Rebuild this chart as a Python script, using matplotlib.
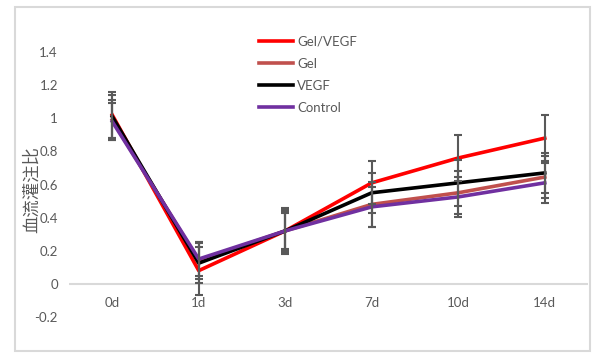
import matplotlib.pyplot as plt
from matplotlib.patches import Rectangle

plt.rcParams['font.family'] = ['Lato', 'Noto Sans CJK SC', 'DejaVu Sans']

# data
days = ['0d', '1d', '3d', '7d', '10d', '14d']
series_names = ['Gel/VEGF', 'Gel', 'VEGF', 'Control']
gel_vegf = [1.02, 0.08, 0.32, 0.61, 0.76, 0.88]
gel = [0.99, 0.14, 0.32, 0.48, 0.55, 0.645]
vegf = [1.01, 0.125, 0.32, 0.55, 0.61, 0.67]
control = [0.98, 0.15, 0.32, 0.465, 0.525, 0.61]
gel_vegf_err = [0.14, 0.145, 0.14, 0.13, 0.14, 0.14]
gel_err = [0.12, 0.11, 0.12, 0.135, 0.13, 0.125]
vegf_err = [0.13, 0.12, 0.13, 0.12, 0.14, 0.12]
control_err = [0.11, 0.10, 0.11, 0.12, 0.12, 0.12]

colors = ['#FF0000', '#C0504D', '#000000', '#7030A0']
values = [gel_vegf, gel, vegf, control]
errors = [gel_vegf_err, gel_err, vegf_err, control_err]

W, H = 597, 358
fig = plt.figure(figsize=(W / 100, H / 100), dpi=100)
# outer chart border
fig.patches.append(Rectangle((15 / W, 1 - 351 / H), 575 / W, 344 / H,
                             transform=fig.transFigure, fill=False,
                             edgecolor='#D9D9D9', linewidth=1.5))
ax = fig.add_axes([69 / W, 1 - 317 / H, 519 / W, 265 / H])

x = list(range(len(days)))
for name, vals, errs, c in zip(series_names, values, errors, colors):
    ax.plot(x, vals, color=c, linewidth=2.6, label=name, zorder=3)
    ax.errorbar(x, vals, yerr=errs, fmt='none', ecolor='#595959',
                elinewidth=1.5, capsize=3, capthick=1.5, zorder=4)

ax.set_xlim(-0.5, len(days) - 0.5)
ax.set_ylim(-0.2, 1.4)
ax.set_yticks([-0.2, 0, 0.2, 0.4, 0.6, 0.8, 1, 1.2, 1.4])
ax.set_yticklabels(['-0.2', '0', '0.2', '0.4', '0.6', '0.8', '1', '1.2', '1.4'])
ax.set_xticks([])
for s in ax.spines.values():
    s.set_visible(False)
ax.axhline(0, color='#D9D9D9', linewidth=1.5, zorder=1)
ax.tick_params(axis='y', length=0, labelsize=9.5, labelcolor='#595959', pad=8)

# category labels sit just under the zero line
for xi, d in zip(x, days):
    ax.text(xi, -0.115, d, ha='center', va='center', fontsize=9.5, color='#595959')

ax.set_ylabel('血流灌注比', fontsize=12.5, color='#595959')
ax.yaxis.set_label_coords(-0.056, 0.48)

ax.legend(loc='upper left', bbox_to_anchor=(247 / W, 1 - 24 / H),
          bbox_transform=fig.transFigure, frameon=False, fontsize=9.5,
          labelcolor='#595959', handlelength=2.6, handletextpad=0.3,
          labelspacing=0.75)

fig.savefig('out.png', dpi=100)
